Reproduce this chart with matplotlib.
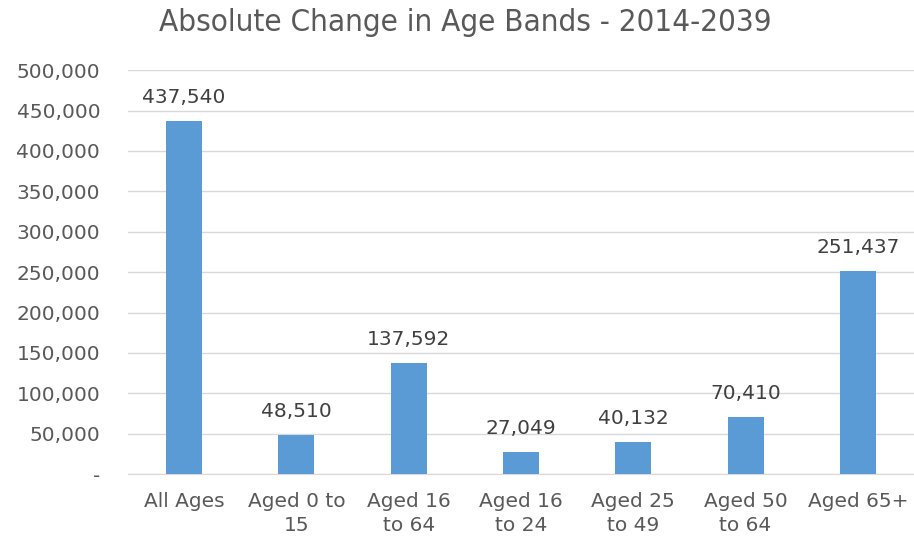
import matplotlib.pyplot as plt
from matplotlib.ticker import FuncFormatter

plt.rcParams['font.family'] = ['DejaVu Sans']

categories = ['All Ages', 'Aged 0 to\n15', 'Aged 16\nto 64', 'Aged 16\nto 24',
              'Aged 25\nto 49', 'Aged 50\nto 64', 'Aged 65+']
values = [437540, 48510, 137592, 27049, 40132, 70410, 251437]

fig = plt.figure(figsize=(9.14, 5.4), dpi=100)
ax = fig.add_axes([0.14, 0.122, 0.86, 0.748])

x = range(len(categories))
bars = ax.bar(x, values, width=0.32, color='#5B9BD5', zorder=3)

# data labels
for b, v in zip(bars, values):
    ax.annotate(f'{v:,}', (b.get_x() + b.get_width() / 2, v),
                xytext=(0, 10), textcoords='offset points',
                ha='center', va='bottom', fontsize=14.5, color='#404040')

ax.set_ylim(0, 500000)
ax.set_xlim(-0.5, len(categories) - 0.5)
ax.set_yticks(range(0, 500001, 50000))
ax.yaxis.set_major_formatter(FuncFormatter(lambda v, p: '-' if v == 0 else f'{int(v):,}'))
ax.set_xticks(list(x))
ax.set_xticklabels(categories, linespacing=1.3)

ax.grid(axis='y', color='#D9D9D9', linewidth=1, zorder=0)
for s in ['top', 'right', 'left']:
    ax.spines[s].set_visible(False)
ax.spines['bottom'].set_color('#D9D9D9')
ax.tick_params(axis='both', length=0, labelsize=14.5, colors='#595959')
ax.tick_params(axis='x', pad=13)
ax.tick_params(axis='y', pad=20)

fig.suptitle('Absolute Change in Age Bands - 2014-2039', x=0.509, y=0.985,
             fontsize=22.5, color='#595959', fontstretch='condensed')

fig.savefig('out.png', dpi=100)
